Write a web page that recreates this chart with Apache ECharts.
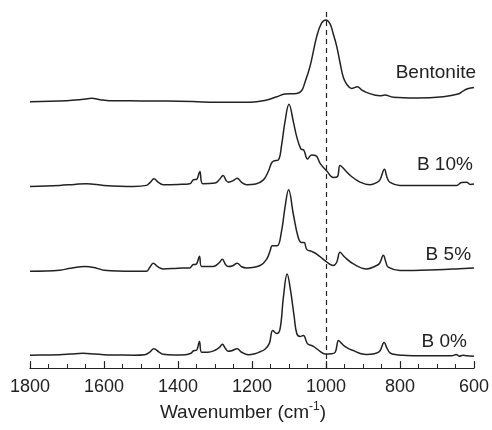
<!DOCTYPE html>
<html>
<head>
<meta charset="utf-8">
<script src="https://cdn.jsdelivr.net/npm/echarts@6/dist/echarts.min.js"></script>
<style>
  html, body { margin: 0; padding: 0; background: #fff; }
  #chart { width: 492px; height: 430px; }
</style>
</head>
<body>
<div id="chart"></div>
<script>
// spectra: [wavenumber, height above own baseline]
let bentonite = [
	[1800, 0], [1701, 1], [1660, 2.2], [1633, 3.4], [1610, 2], [1584, 1], [1500, 0.8], [1431, 0.7],
	[1360, 0.2], [1295, -0.6], [1205, -0.6], [1160, 1.7], [1133, 5], [1111, 7.7], [1079, 8.4],
	[1066, 11], [1057, 19.4], [1043, 36], [1025, 66], [1012, 79.4], [1000, 82.7], [989, 78.7],
	[981, 69.4], [971, 56], [962, 39.4], [953, 24.4], [944, 17.7], [931, 13.4], [915, 15],
	[904, 12], [891, 9.4], [854, 6], [841, 6.7], [818, 4.4], [755, 3.7], [683, 5], [643, 7.7],
	[629, 11], [615, 13.4], [600, 14.4]
];
let b10 = [
	[1800, 0], [1720, 1], [1680, 2], [1647, 2.7], [1600, 1], [1520, 0], [1485, 1], [1475, 4],
	[1465, 7.7], [1453, 4], [1440, 1.7], [1400, 2], [1368, 2.7], [1358, 6.7], [1350, 7], [1341, 15],
	[1333, 2.7], [1300, 3.3], [1288, 7], [1278, 11], [1270, 6], [1264, 4.3], [1252, 5.5], [1240, 8.3],
	[1228, 4], [1214, 1.7], [1190, 2.5], [1169, 6.6], [1156, 15], [1148, 23], [1142, 25.6],
	[1129, 26.6], [1120, 41.6], [1111, 65], [1100, 83], [1088, 65], [1079, 50], [1068, 38],
	[1060, 36.6], [1050, 27.6], [1039, 31.6], [1027, 31], [1016, 23.3], [998, 15.6], [980, 9],
	[969, 10], [962, 21], [949, 16.6], [931, 10], [908, 4.3], [881, 1.6], [862, 4], [854, 6.7],
	[842, 17.3], [835, 9], [827, 4], [800, 1], [700, 1], [647, 1], [634, 4], [620, 4.3], [610, 2],
	[600, 2.3]
];
let b5 = [
	[1800, 0], [1720, 1], [1690, 3], [1651, 4.7], [1620, 3], [1600, 1], [1520, 0], [1485, 0],
	[1476, 4], [1467, 8], [1455, 4.5], [1440, 2.3], [1400, 3], [1368, 3.3], [1359, 6.7], [1351, 7],
	[1342, 15], [1336, 4.7], [1305, 4.7], [1290, 8], [1280, 12], [1272, 7], [1264, 4.7], [1252, 5.5],
	[1240, 8], [1228, 4.5], [1214, 3.3], [1178, 5.7], [1160, 12.3], [1151, 20.7], [1145, 25.7],
	[1132, 25.7], [1120, 40.7], [1111, 64], [1101, 82.3], [1088, 57], [1075, 34], [1066, 29],
	[1059, 29], [1052, 22], [1039, 20], [1025, 17.3], [1003, 10.7], [980, 5.7], [971, 9],
	[962, 19], [949, 14], [926, 7.3], [890, 2.3], [863, 5.7], [855, 8], [845, 16], [838, 9],
	[832, 4], [800, 0.7], [700, 1.5], [640, 2.5], [600, 3.3]
];
let b0 = [
	[1800, 0], [1760, 0.3], [1720, 0.5], [1690, 1.2], [1657, 2], [1625, 1.2], [1600, 0.5], [1560, 0.2],
	[1520, 0], [1490, 0.5], [1477, 3], [1465, 6.5], [1452, 3.5], [1440, 1], [1410, 0.3], [1380, 0.5],
	[1365, 2], [1358, 4.5], [1350, 5], [1342, 14], [1336, 3], [1320, 3], [1300, 5], [1288, 8],
	[1280, 11], [1272, 7], [1264, 4], [1255, 4.5], [1240, 6.5], [1228, 3], [1210, 0.5], [1192, 1.5],
	[1178, 3.5], [1165, 6], [1153, 12], [1144, 25], [1133, 22], [1124, 27], [1115, 59], [1105, 82],
	[1096, 66], [1086, 39], [1079, 22], [1070, 19], [1061, 20], [1050, 11.7], [1034, 9], [1016, 4],
	[1003, 1.3], [985, 1.5], [975, 3], [966, 15], [958, 12], [949, 9], [938, 6.5], [926, 4.7],
	[905, 1.5], [890, 0.7], [870, 1.5], [855, 4], [843, 13], [835, 7], [827, 2.5], [810, 0.5],
	[791, 0], [750, -0.5], [700, -0.5], [660, -0.5], [648, 0.8], [640, -1], [630, 0], [620, -0.5],
	[600, -1]
];

let seriesNames = ['Bentonite', 'B 10%', 'B 5%', 'B 0%'];
let spectra = [bentonite, b10, b5, b0];
let offsets = [269.3, 183.7, 98, 13];
let refLine = 1000;

let myChart = echarts.init(document.getElementById('chart'));
let font = 'Liberation Sans, Arial, Helvetica, sans-serif';
let ink = '#222';

// where each name sits (right end, above its trace)
let labelAt = [[600, 299], [603, 205.3], [608, 115], [619, 27]];

let series = spectra.map(function(pts, i) {
	let s = {
		name: seriesNames[i],
		type: 'line',
		data: pts.map(p => [p[0], p[1] + offsets[i]]),
		showSymbol: false,
		smooth: 0.4,
		lineStyle: { color: ink, width: 1.5 },
		silent: true,
		markPoint: {
			symbol: 'circle',
			symbolSize: 0,
			data: [{ coord: labelAt[i] }],
			label: {
				show: true,
				position: 'left',
				distance: i === 0 ? -2 : 0,
				formatter: seriesNames[i],
				color: ink,
				fontSize: 19,
				fontFamily: font
			}
		}
	};
	if (i === 0) {
		s.markLine = {
			symbol: 'none',
			silent: true,
			label: { show: false },
			lineStyle: { color: ink, width: 1.2, type: [5, 4] },
			data: [{ xAxis: refLine }]
		};
	}
	return s;
});

let option = {
	animation: false,
	backgroundColor: '#fff',
	grid: {
		left: 30,
		right: 18,
		top: 10,
		bottom: 58
	},
	xAxis: {
		type: 'value',
		inverse: true,
		min: 600,
		max: 1800,
		interval: 200,
		name: '{t|Wavenumber (cm}{s|-1}{t|)}',
		nameLocation: 'middle',
		nameGap: 27,
		nameTextStyle: {
			padding: [0, 18, 0, 0],
			rich: {
				t: { fontSize: 19, fontFamily: font, color: ink, lineHeight: 22 },
				s: { fontSize: 12, fontFamily: font, color: ink, lineHeight: 22, padding: [0, 0, 12, 0] }
			}
		},
		axisLine: { lineStyle: { color: ink, width: 1.2 } },
		axisTick: { inside: true, length: 7, lineStyle: { color: ink, width: 1.2 } },
		minorTick: { show: true, splitNumber: 4, length: 4, lineStyle: { color: ink, width: 1 } },
		axisLabel: {
			margin: 10,
			fontSize: 18,
			fontFamily: font,
			color: ink,
			formatter: v => String(v)
		},
		splitLine: { show: false }
	},
	yAxis: {
		type: 'value',
		min: 0,
		max: 362,
		show: false,
		splitLine: { show: false }
	},
	series: series
};
myChart.setOption(option);
</script>
</body>
</html>
